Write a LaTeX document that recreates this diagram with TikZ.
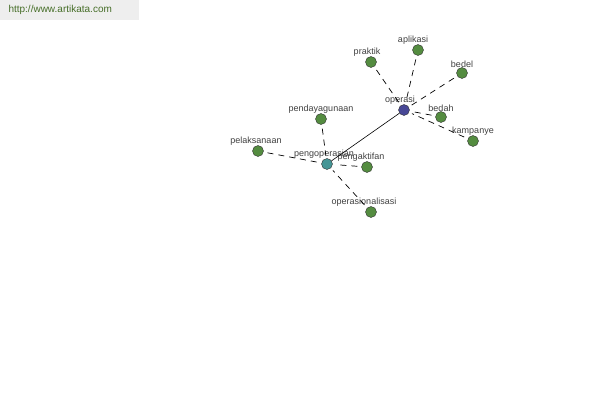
\documentclass[tikz,border=0pt]{standalone}
\usepackage{fontspec}
\setmainfont{Liberation Sans}
\usetikzlibrary{positioning}
\definecolor{hijau}{RGB}{84, 140, 64}
\definecolor{biru}{RGB}{72, 72, 150}
\definecolor{tosca}{RGB}{70, 150, 150}
\definecolor{teksurl}{RGB}{70, 110, 40}
\definecolor{abu}{RGB}{238, 238, 238}

\begin{document}
\begin{tikzpicture}[
    x=1pt, y=-1pt,
    simpul/.style={
        circle,
        draw=black!80,
        fill=hijau,
        minimum size=11pt,
        inner sep=0pt
    },
    pusat/.style={simpul, fill=biru},
    pusat2/.style={simpul, fill=tosca},
    lbl/.style={
        font=\fontsize{9}{10}\selectfont,
        text=black!75,
        inner sep=1pt,
        label distance=-1.5pt
    },
    garis/.style={
        line width=0.7pt,
        dash pattern=on 6pt off 5pt,
        shorten <=4pt,
        shorten >=3pt
    },
    utama/.style={
        line width=0.6pt
    }
]

\useasboundingbox (0,0) rectangle (600,400);

% =================================================
% HEADER
% =================================================

\fill[abu] (0,0) rectangle (139,20);
\node[font=\fontsize{10}{12}\selectfont, text=teksurl, anchor=west] (url) at (5,10)
{http://www.artikata.com};

% =================================================
% SIMPUL
% =================================================

\node[pusat, label={[lbl, xshift=-4pt]above:operasi}] (operasi) at (404,110) {};
\node[pusat2, label={[lbl, xshift=-3pt]above:pengoperasian}] (pengoperasian) at (327,164) {};

\node[simpul, label={[lbl, xshift=-4pt]above:praktik}] (praktik) at (371,62) {};
\node[simpul, label={[lbl, xshift=-5pt]above:aplikasi}] (aplikasi) at (418,50) {};
\node[simpul, label={[lbl]above:bedel}] (bedel) at (462,73) {};
\node[simpul, label={[lbl]above:bedah}] (bedah) at (441,117) {};
\node[simpul, label={[lbl]above:kampanye}] (kampanye) at (473,141) {};

\node[simpul, label={[lbl]above:pendayagunaan}] (pendayagunaan) at (321,119) {};
\node[simpul, label={[lbl, xshift=-2pt]above:pelaksanaan}] (pelaksanaan) at (258,151) {};
\node[simpul, label={[lbl, xshift=-6pt]above:pengaktifan}] (pengaktifan) at (367,167) {};
\node[simpul, label={[lbl, xshift=-7pt]above:operasionalisasi}] (operasionalisasi) at (371,212) {};

% =================================================
% GARIS
% =================================================

\draw[utama] (pengoperasian) -- (operasi);

\draw[garis] (praktik) -- (operasi);
\draw[garis] (aplikasi) -- (operasi);
\draw[garis] (bedel) -- (operasi);
\draw[garis] (bedah) -- (operasi);
\draw[garis] (kampanye) -- (operasi);

\draw[garis] (pendayagunaan) -- (pengoperasian);
\draw[garis] (pelaksanaan) -- (pengoperasian);
\draw[garis] (pengaktifan) -- (pengoperasian);
\draw[garis] (operasionalisasi) -- (pengoperasian);

\end{tikzpicture}
\end{document}
